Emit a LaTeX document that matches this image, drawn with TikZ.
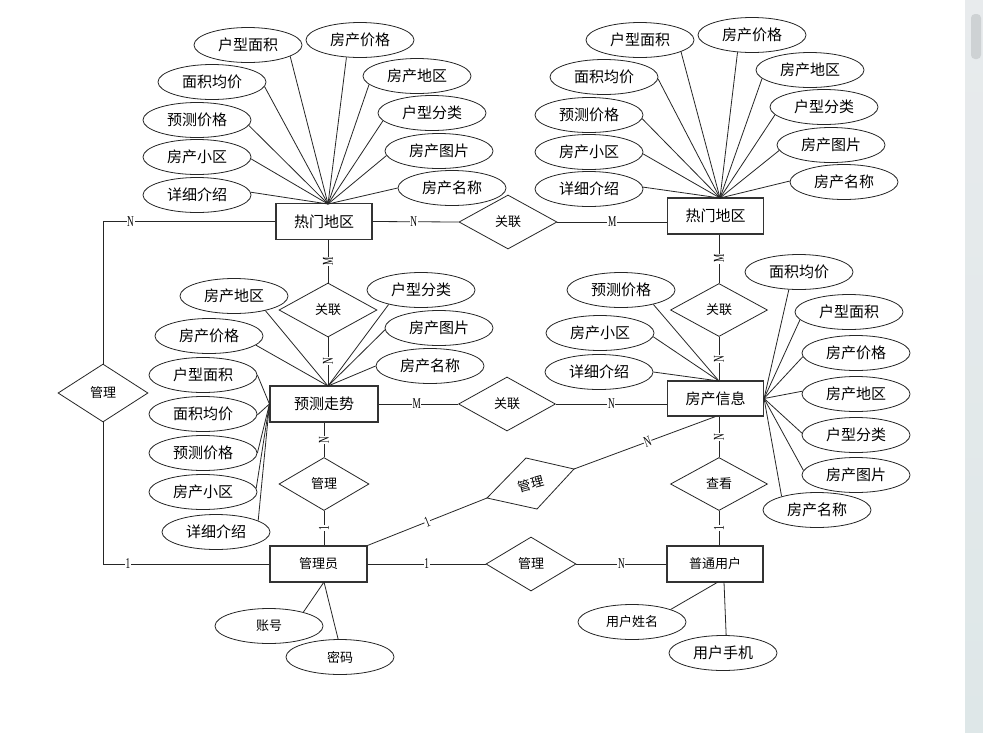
\documentclass[tikz,border=0pt]{standalone}
\usepackage{fontspec}
\setmainfont{Liberation Serif}
\newfontfamily\cjk{Noto Sans CJK SC}
\usetikzlibrary{shapes.geometric,calc}
\newcommand\cardtxt[1]{\scalebox{0.62}[1]{#1}}
\definecolor{sbtop}{RGB}{232,235,237}
\definecolor{sbmid}{RGB}{229,232,226}
\definecolor{sbbot}{RGB}{222,231,232}
\definecolor{sbthumb}{RGB}{206,210,212}
\begin{document}
\begin{tikzpicture}[x=1pt,y=-1pt,
 conn/.style={draw=black!85, line width=0.8pt},
 attr/.style={ellipse, draw=black!85, line width=0.8pt, minimum width=108pt, minimum height=35pt, inner sep=0pt, font=\cjk\fontsize{15}{15}\selectfont},
 attrs/.style={attr, font=\cjk\fontsize{13}{13}\selectfont},
 ent/.style={rectangle, draw=black!80, line width=1.1pt, minimum width=96pt, minimum height=36pt, inner sep=0pt, font=\cjk\fontsize{15}{15}\selectfont},
 ents/.style={ent, font=\cjk\fontsize{13}{13}\selectfont},
 rel/.style={diamond, draw=black!85, line width=0.8pt, minimum width=98pt, minimum height=54pt, inner sep=0pt, font=\cjk\fontsize{13}{13}\selectfont},
 lab/.style={fill=white, inner sep=0.6pt, font=\fontsize{15}{15}\selectfont},
 vlab/.style={lab, rotate=90},
]
\useasboundingbox (0,0) rectangle (983,732);
\fill[white] (0,0) rectangle (983,732);
% scrollbar
\shade[top color=sbtop, middle color=sbmid, bottom color=sbbot] (965,0) rectangle (983,732);
\fill[sbthumb, rounded corners=4pt] (971,14) rectangle (981,59);

% entities
\node[ent] (hot1) at (324,221.5) {热门地区};
\node[ent] (hot2) at (715.5,216) {热门地区};
\node[ent, minimum width=108pt] (pre) at (324,404) {预测走势};
\node[ent, minimum height=35pt] (info) at (715.5,398.5) {房产信息};
\node[ents, minimum width=97pt] (adm) at (318.5,564) {管理员};
\node[ents] (usr) at (715,564) {普通用户};

% relations
\node[rel] (rA) at (508,222) {关联};
\node[rel] (rB) at (328,310) {关联};
\node[rel, minimum width=97pt] (rC) at (507,404) {关联};
\node[rel, minimum width=97pt, minimum height=53pt] (rD) at (719,310) {关联};
\node[rel, minimum width=97pt, minimum height=53pt] (rE) at (719,484) {查看};
\node[rel, minimum width=90pt, minimum height=58pt] (rF) at (103,393) {管理};
\node[rel, minimum width=90pt, minimum height=53pt] (rG) at (324,484) {管理};
\node[rel, minimum width=90pt] (rH) at (531,564) {管理};
\coordinate (iT) at (526,458);
\coordinate (iR) at (574,469);
\coordinate (iB) at (537,509);
\coordinate (iL) at (487,498);
\draw[conn] (iT) -- (iR) -- (iB) -- (iL) -- cycle;
\node[font=\cjk\fontsize{13}{13}\selectfont, rotate=15, inner sep=0pt] (rItxt) at (531,484) {管理};

% hubs
\coordinate (h1) at (328,204);
\coordinate (h2) at (720,198);
\coordinate (hp) at (328,386);
\coordinate (hi) at (719,381);
\coordinate (ha) at (324,582);
\coordinate (hu1) at (718,582);
\coordinate (hu2) at (724,582);

% attributes of hot1
\foreach \n/\x/\y/\a/\t in {
 pa/248/45/-15/户型面积, pb/360/40/-128/房产价格, pc/212/82/-5/面积均价,
 pd/417/76/-170/房产地区, pe/197/120/-6/预测价格, pf/432/113/-171/户型分类,
 pg/197/157/-2/房产小区, ph/439/151/-175/房产图片, pi/197/195/3/详细介绍,
 pj/452/188/180/房产名称}{
 \node[attr] (\n) at (\x,\y) {\t};
 \draw[conn] (\n.\a) -- (h1);
}
% attributes of hot2
\foreach \n/\x/\y/\a/\t in {
 qa/640/40/-16/户型面积, qb/752/35/-130/房产价格, qc/604/77/-2/面积均价,
 qd/810/70/-170/房产地区, qe/589/115/-4/预测价格, qf/824/107/-171/户型分类,
 qg/589/152/-2/房产小区, qh/831/145/-174/房产图片, qi/589/189/2/详细介绍,
 qj/844/182/179/房产名称}{
 \node[attr] (\n) at (\x,\y) {\t};
 \draw[conn] (\n.\a) -- (h2);
}
% attributes of pre (top hub)
\foreach \n/\x/\y/\a/\t in {
 ra/234/296/-25/房产地区, rb/209/336/-11/房产价格, rc/421/290/-156/户型分类,
 rd/439/328/-178/房产图片, re/430/366/180/房产名称}{
 \node[attr] (\n) at (\x,\y) {\t};
 \draw[conn] (\n.\a) -- (hp);
}
% attributes of pre (west)
\foreach \n/\x/\y/\a/\t in {
 sa/203/375/0/户型面积, sb/203/414/-1/面积均价, sc/203/453/0/预测价格,
 sd/203/492/4/房产小区, se/216/532/15/详细介绍}{
 \node[attr] (\n) at (\x,\y) {\t};
 \draw[conn] (\n.\a) -- (pre.west);
}
% attributes of info (top hub)
\foreach \n/\x/\y/\a/\t in {
 ta/621/290/-24/预测价格, tb/600/333/-4/房产小区, tc/599/372/0/详细介绍}{
 \node[attr] (\n) at (\x,\y) {\t};
 \draw[conn] (\n.\a) -- (hi);
}
% attributes of info (east)
\foreach \n/\x/\y/\a/\t in {
 ua/799/272/-120/面积均价, ub/849/312/-171/户型面积, uc/856/353/-176/房产价格,
 ud/856/394/177/房产地区, ue/856/435/178/户型分类, uf/856/475/175/房产图片,
 ug/817/510/159/房产名称}{
 \node[attr] (\n) at (\x,\y) {\t};
 \draw[conn] (\n.\a) -- (info.east);
}
% admin and user attributes
\node[attrs] (acc) at (269,626) {账号};
\node[attrs] (pwd) at (340,657) {密码};
\node[attrs] (uname) at (632,622) {用户姓名};
\node[attr] (uphone) at (723,653) {用户手机};
\draw[conn] (acc.22) -- (ha);
\draw[conn] (pwd.96) -- (ha);
\draw[conn] (uname.18) -- (hu1);
\draw[conn] (uphone.80) -- (hu2);

% relationship connectors
\draw[conn] (hot1.east) -- node[lab,pos=0.48]{\cardtxt{N}} (rA.west);
\draw[conn] (rA.east) -- node[lab]{\cardtxt{M}} (rA.east -| hot2.west);
\draw[conn] (rB.north |- hot1.south) -- node[vlab]{\cardtxt{M}} (rB.north);
\draw[conn] (rB.south) -- node[vlab]{\cardtxt{N}} (rB.south |- pre.north);
\draw[conn] (pre.east) -- node[lab,pos=0.48]{\cardtxt{M}} (rC.west);
\draw[conn] (rC.east) -- node[lab]{\cardtxt{N}} (rC.east -| info.west);
\draw[conn] (rD.north |- hot2.south) -- node[vlab]{\cardtxt{M}} (rD.north);
\draw[conn] (rD.south) -- node[vlab]{\cardtxt{N}} (rD.south |- info.north);
\draw[conn] (rE.north |- info.south) -- node[vlab]{\cardtxt{N}} (rE.north);
\draw[conn] (rE.south) -- node[vlab]{\cardtxt{1}} (rE.south |- usr.north);
\draw[conn] (rG.north |- pre.south) -- node[vlab]{\cardtxt{N}} (rG.north);
\draw[conn] (rG.south) -- node[vlab]{\cardtxt{1}} (rG.south |- adm.north);
\draw[conn] (hot1.west) -- node[lab,pos=0.84]{\cardtxt{N}} (hot1.west -| rF.north) -- (rF.north);
\draw[conn] (rF.south) -- (rF.south |- adm.west) -- node[lab,pos=0.15]{\cardtxt{1}} (adm.west);
\draw[conn] (adm.east) -- node[lab]{\cardtxt{1}} (rH.west);
\draw[conn] (rH.east) -- node[lab]{\cardtxt{N}} (usr.west);
\draw[conn] (adm.north east) -- node[lab,sloped]{\cardtxt{1}} (iL);
\draw[conn] (iR) -- node[lab,sloped,pos=0.52]{\cardtxt{N}} (info.south);
\end{tikzpicture}
\end{document}
